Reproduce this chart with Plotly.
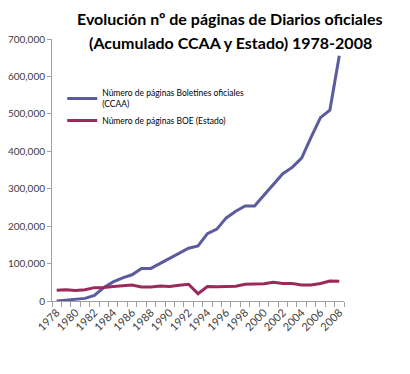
import plotly.graph_objects as go

years = list(range(1978, 2009))
ccaa = [0, 2000, 4000, 7000, 15000, 36000, 51000, 62000, 70000, 87000, 87000,
        100000, 115000, 127000, 141000, 147000, 180000, 192000, 222000, 240000,
        254000, 254000, 282000, 310000, 340000, 357000, 382000, 437000, 490000,
        510000, 655000]
boe = [28500, 30000, 28000, 30000, 35700, 36000, 38500, 41000, 42800, 37500, 37500,
       40000, 38500, 42000, 44600, 19600, 38500, 38000, 39000, 39500, 44600, 45500,
       46400, 50000, 47000, 46500, 42800, 42800, 47000, 53500, 53000]
name_ccaa = "Número de páginas Boletines oficiales<br>(CCAA)"
name_boe = "Número de páginas BOE (Estado)"
title_lines = ["Evolución nº de páginas de Diarios oficiales",
               "(Acumulado CCAA y Estado) 1978-2008"]
y_ticks = [0, 100000, 200000, 300000, 400000, 500000, 600000, 700000]
x_ticks = list(range(1978, 2009, 2))

FONT = "Lato"

fig = go.Figure()
fig.add_trace(go.Scatter(x=years, y=ccaa, mode="lines", name=name_ccaa,
                         line=dict(color="#5B5B9E", width=3)))
fig.add_trace(go.Scatter(x=years, y=boe, mode="lines", name=name_boe,
                         line=dict(color="#9A2A5C", width=3)))

# page body has an 8px default margin: figure is 402x366, offset by 8px
for txt, yp in zip(title_lines, [1.080, 0.985]):
    fig.add_annotation(text="<b>" + txt + "</b>", xref="paper", yref="paper",
                       x=0.61, y=yp, xanchor="center", yanchor="middle", showarrow=False,
                       font=dict(family=FONT, size=16, color="black"))

fig.update_layout(
    width=402, height=366,
    margin=dict(l=44, r=66, t=31, b=73, autoexpand=False),
    paper_bgcolor="white", plot_bgcolor="white",
    font=dict(family=FONT, color="#404040"),
    showlegend=True,
    legend=dict(x=0.035, y=0.84, xanchor="left", yanchor="top",
                font=dict(family=FONT, size=8.5, color="black"),
                bgcolor="rgba(0,0,0,0)", tracegroupgap=2, itemwidth=30),
    xaxis=dict(range=[1977.5, 2008.5], tickmode="array", tickvals=x_ticks,
               ticktext=[str(v) for v in x_ticks], tickangle=-45, automargin=False,
               showgrid=False, zeroline=False, showline=True, linecolor="#A0A0A0",
               linewidth=1, ticks="", tickfont=dict(size=11, color="#404040"),
               minor=dict(ticks="outside", tickmode="linear", tick0=1977.5, dtick=1,
                          ticklen=5, tickcolor="#A0A0A0", showgrid=False)),
    yaxis=dict(range=[0, 700000], tickmode="array", tickvals=y_ticks, automargin=False,
               tickformat=",", showgrid=False, zeroline=False, showline=True,
               linecolor="#A0A0A0", linewidth=1, ticks="outside", ticklen=4,
               tickcolor="#A0A0A0", tickfont=dict(size=10, color="#404040")),
)

fig.write_html("out.html")
